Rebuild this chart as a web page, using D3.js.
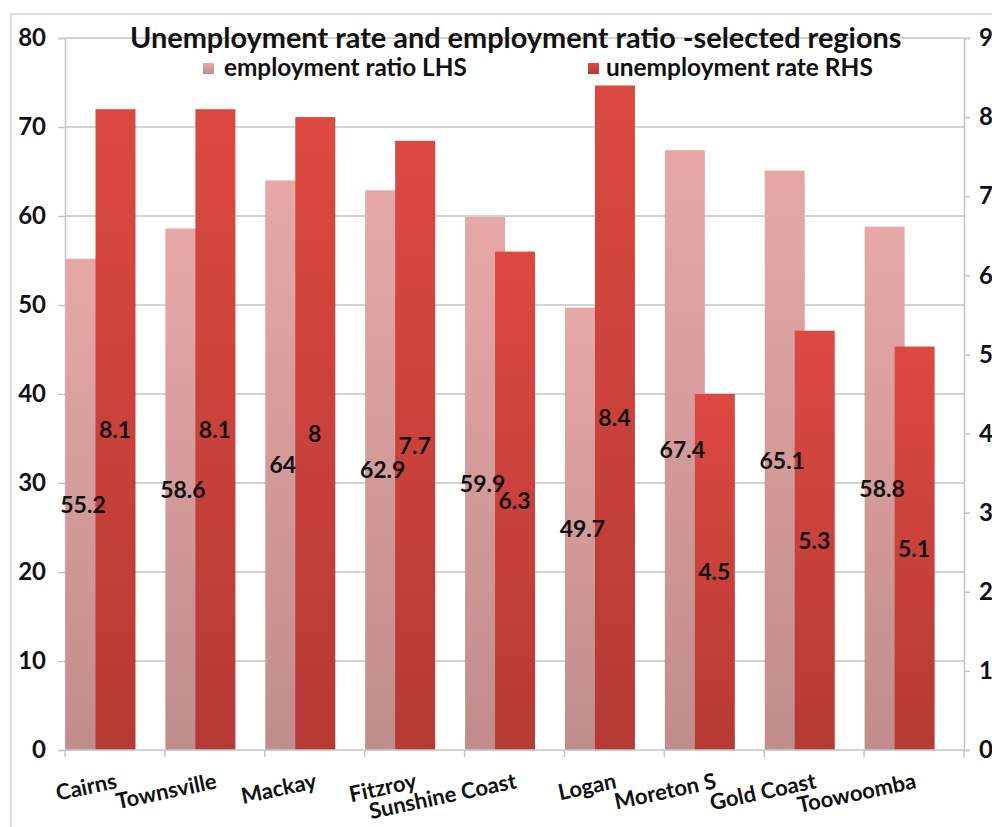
<!DOCTYPE html>
<html>
<head>
<meta charset="utf-8">
<script src="https://cdn.jsdelivr.net/npm/d3@7"></script>
<style>
  body { margin: 0; background: #fff; }
  svg text { font-family: Lato, "Open Sans", sans-serif; font-weight: bold; fill: #111; }
</style>
</head>
<body>
<svg id="chart" width="992" height="827"></svg>
<script>
// chart values
const regions = ["Cairns", "Townsville", "Mackay", "Fitzroy", "Sunshine Coast",
                 "Logan", "Moreton S", "Gold Coast", "Toowoomba"];
const employmentRatio = [55.2, 58.6, 64, 62.9, 59.9, 49.7, 67.4, 65.1, 58.8];
const unemploymentRate = [8.1, 8.1, 8, 7.7, 6.3, 8.4, 4.5, 5.3, 5.1];
const leftTicks = [0, 10, 20, 30, 40, 50, 60, 70, 80];
const rightTicks = [0, 1, 2, 3, 4, 5, 6, 7, 8, 9];
const titleText = "Unemployment rate and employment ratio -selected regions";
const legendLabels = ["employment ratio LHS", "unemployment rate RHS"];

(function() {
  const svg = d3.select("#chart");
  const plotL = 65, plotR = 964, plotT = 38, plotB = 750;
  const gridColor = "#c4c4c4";

  // fit text to the width it has in the reference
  function fitWidth(sel, w) {
    const size = parseFloat(sel.style("font-size"));
    const len = sel.node().getComputedTextLength();
    sel.style("font-size", (size * w / len) + "px");
  }

  const x = d3.scaleBand().domain(regions).range([plotL, plotR]).padding(0);
  const yL = d3.scaleLinear().domain([0, 80]).range([plotB, plotT]);
  const yR = d3.scaleLinear().domain([0, 9]).range([plotB, plotT]);

  const defs = svg.append("defs");
  function grad(id, c1, c2) {
    const g = defs.append("linearGradient").attr("id", id)
      .attr("x1", 0).attr("y1", 0).attr("x2", 0).attr("y2", 1);
    g.append("stop").attr("offset", "0%").attr("stop-color", c1);
    g.append("stop").attr("offset", "100%").attr("stop-color", c2);
  }
  grad("gPink", "#e5a8a7", "#c08d8c");
  grad("gRed", "#dc4941", "#b63a34");

  // outer chart border
  svg.append("rect").attr("x", 11).attr("y", 14).attr("width", 1000).attr("height", 900)
    .attr("fill", "none").attr("stroke", "#d4d4d4").attr("stroke-width", 1.5);

  // gridlines
  svg.append("g").selectAll("line").data(leftTicks.slice(1)).join("line")
    .attr("x1", plotL).attr("x2", plotR)
    .attr("y1", d => yL(d)).attr("y2", d => yL(d))
    .attr("stroke", gridColor).attr("stroke-width", 1.5);

  // left axis
  const axL = svg.append("g").attr("transform", `translate(${plotL},0)`)
    .call(d3.axisLeft(yL).tickValues(leftTicks).tickSize(7).tickPadding(12));
  axL.select(".domain").attr("stroke", gridColor).attr("stroke-width", 1.5);
  axL.selectAll(".tick line").attr("stroke", gridColor).attr("stroke-width", 1.5);
  axL.selectAll(".tick text").style("font-size", "24px").attr("fill", "#111");

  // right axis
  const axR = svg.append("g").attr("transform", `translate(${plotR},0)`)
    .call(d3.axisRight(yR).tickValues(rightTicks).tickSize(6).tickPadding(9));
  axR.select(".domain").attr("stroke", gridColor).attr("stroke-width", 1.5);
  axR.selectAll(".tick line").attr("stroke", gridColor).attr("stroke-width", 1.5);
  axR.selectAll(".tick text").style("font-size", "24px").attr("fill", "#111");

  // bars
  const barW = 40, shift = 30;
  svg.append("g").selectAll("rect").data(regions).join("rect")
    .attr("x", d => x(d) + 0.5).attr("width", barW)
    .attr("y", (d, i) => yL(employmentRatio[i]))
    .attr("height", (d, i) => plotB - yL(employmentRatio[i]))
    .attr("fill", "url(#gPink)");
  svg.append("g").selectAll("rect").data(regions).join("rect")
    .attr("x", d => x(d) + shift + 0.5).attr("width", barW)
    .attr("y", (d, i) => yR(unemploymentRate[i]))
    .attr("height", (d, i) => plotB - yR(unemploymentRate[i]))
    .attr("fill", "url(#gRed)");

  // category axis
  svg.append("line").attr("x1", plotL).attr("x2", plotR).attr("y1", plotB).attr("y2", plotB)
    .attr("stroke", gridColor).attr("stroke-width", 1.5);
  svg.append("g").selectAll("line").data(regions.concat(["end"])).join("line")
    .attr("x1", (d, i) => plotL + i * x.bandwidth()).attr("x2", (d, i) => plotL + i * x.bandwidth())
    .attr("y1", plotB).attr("y2", plotB + 7)
    .attr("stroke", gridColor).attr("stroke-width", 1.5);
  svg.append("g").selectAll("text").data(regions).join("text")
    .attr("text-anchor", "end")
    .attr("transform", d => `translate(${x(d) + x.bandwidth() / 2 + 3},788) rotate(-12)`)
    .style("font-size", "22px")
    .text(d => d);

  // data labels
  svg.append("g").selectAll("text").data(regions).join("text")
    .attr("text-anchor", "middle").attr("dy", "0.36em")
    .attr("x", d => x(d) + 18)
    .attr("y", (d, i) => (yL(employmentRatio[i]) + plotB) / 2)
    .style("font-size", "23px")
    .text((d, i) => employmentRatio[i]);
  svg.append("g").selectAll("text").data(regions).join("text")
    .attr("text-anchor", "middle").attr("dy", "0.36em")
    .attr("x", d => x(d) + shift + 20)
    .attr("y", (d, i) => (yR(unemploymentRate[i]) + plotB) / 2)
    .style("font-size", "23px")
    .text((d, i) => unemploymentRate[i]);

  // title
  const title = svg.append("text").attr("x", 130).attr("y", 48)
    .style("font-size", "24px").text(titleText);
  fitWidth(title, 772);

  // legend
  const legend = [
    { sx: 203, tx: 224, w: 243, fill: "url(#gPink)" },
    { sx: 588, tx: 606, w: 267, fill: "url(#gRed)" }
  ];
  legend.forEach((l, i) => {
    svg.append("rect").attr("x", l.sx).attr("y", 63).attr("width", 11).attr("height", 11)
      .attr("fill", l.fill);
    const t = svg.append("text").attr("x", l.tx).attr("y", 76)
      .style("font-size", "20px").text(legendLabels[i]);
    fitWidth(t, l.w);
  });
})();
</script>
</body>
</html>
